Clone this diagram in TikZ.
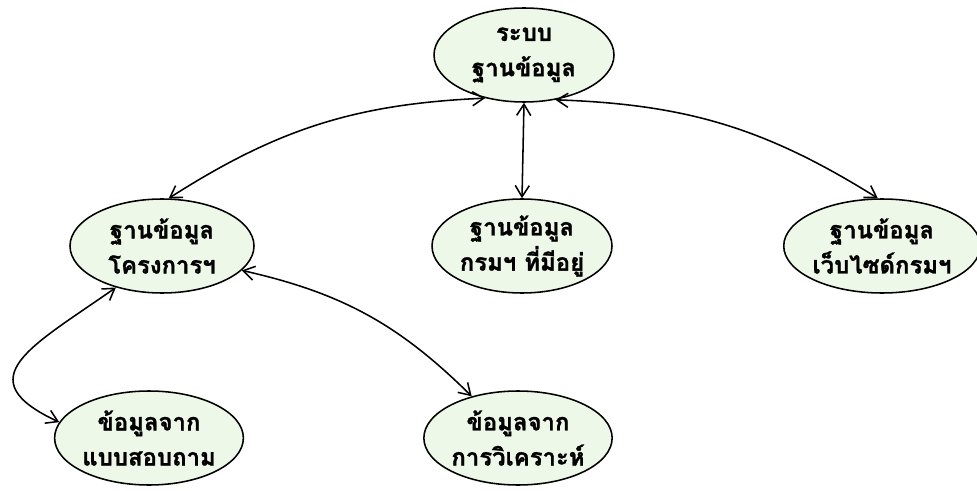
\documentclass[tikz,border=0pt]{standalone}
\usepackage{fontspec}
\newfontfamily\thaifont[Script=Thai,BoldFeatures={FakeBold=1.2}]{Loma}
\usetikzlibrary{arrows.meta,shapes.geometric}

\definecolor{paleleaf}{RGB}{238,248,232}

\tikzstyle{store}=[draw=black,line width=1.1pt,fill=paleleaf,ellipse,inner sep=0pt,
  minimum height=2.35cm,align=center,font=\thaifont\bfseries\fontsize{17}{25}\selectfont]
\tikzstyle{link}=[line width=1.1pt,{Straight Barb[length=8pt,width=10pt]}-{Straight Barb[length=8pt,width=10pt]}]

\begin{document}
\begin{tikzpicture}[scale=1.0]

   \useasboundingbox (0,0) rectangle (24.425,-12.275);

   \node[store,minimum width=4.5cm] (db) at (13.1,-1.375) {ระบบ\\ฐานข้อมูล};

   \node[store,minimum width=4.6cm] (proj) at (4.05,-6.15) {ฐานข้อมูล\\โครงการฯ};
   \node[store,minimum width=4.5cm] (dept) at (13.05,-6.15) {ฐานข้อมูล\\กรมฯ ที่มีอยู่};
   \node[store,minimum width=4.15cm] (web) at (22.05,-6.15) {ฐานข้อมูล\\เว็บไซด์กรมฯ};

   \node[store,minimum width=4.05cm] (survey) at (3.725,-10.95) {ข้อมูลจาก\\แบบสอบถาม};
   \node[store,minimum width=4.3cm] (anal) at (12.95,-10.95) {ข้อมูลจาก\\การวิเคราะห์};


   \draw[link] (db.228) to[bend right=15] (proj.82);
   \draw[link] (db.south) -- (dept.north);
   \draw[link] (db.305) to[bend left=15] (web.95);

   \draw[link] (proj.222) to[out=215,in=155,looseness=1.8] (survey.170);
   \draw[link] (proj.343) to[bend left=16] (anal.138);

\end{tikzpicture}
\end{document}
